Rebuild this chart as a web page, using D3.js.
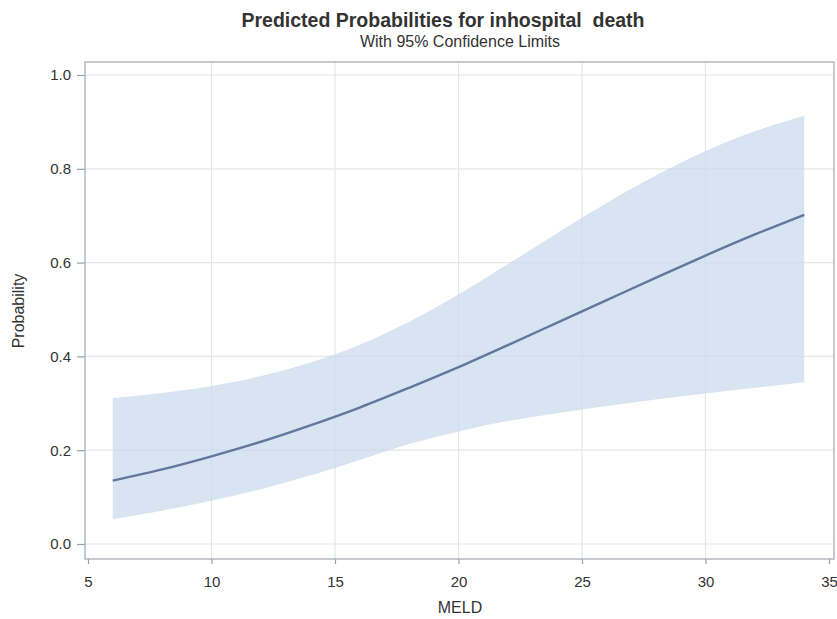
<!DOCTYPE html>
<html>
<head>
<meta charset="utf-8">
<script src="https://cdn.jsdelivr.net/npm/d3@7"></script>
<style>
  body { margin: 0; background: #fff; }
  text { font-family: "Liberation Sans", Arial, sans-serif; fill: #333; }
</style>
</head>
<body>
<div id="chart"></div>
<script>
  // values
  let meld  = [6, 8, 10, 12, 14, 16, 18, 20, 22, 24, 26, 28, 30, 32, 34]
  let pred  = [0.135, 0.159, 0.187, 0.218, 0.253, 0.291, 0.333, 0.377, 0.424, 0.472, 0.520, 0.568, 0.615, 0.660, 0.702]
  let lower = [0.053, 0.071, 0.092, 0.117, 0.146, 0.179, 0.213, 0.240, 0.262, 0.279, 0.294, 0.308, 0.321, 0.333, 0.345]
  let upper = [0.311, 0.322, 0.337, 0.358, 0.387, 0.425, 0.474, 0.532, 0.597, 0.663, 0.727, 0.786, 0.838, 0.880, 0.913]
  let xTicks = [5, 10, 15, 20, 25, 30, 35]
  let yTicks = [0.0, 0.2, 0.4, 0.6, 0.8, 1.0]

  let width  = 837,
      height = 619,
      frame  = { left: 85, right: 834, top: 62, bottom: 559 }

  let x = d3.scaleLinear().domain([5, 35]).range([88, 829]),
      y = d3.scaleLinear().domain([0, 1]).range([544, 75])

  let rows = meld.map(function(m, i) {
    return { x: m, p: pred[i], lo: lower[i], hi: upper[i] } })

  let svg = d3.select('#chart')
              .append('svg:svg')
              .attr('width', width)
              .attr('height', height)

  // grid
  let grid = svg.append('svg:g').attr('id', 'grid')
  grid.selectAll('line.gx').data(xTicks.slice(1, -1))
    .enter().append('svg:line')
      .attr('class', 'gx')
      .attr('x1', function(d) { return x(d) }).attr('x2', function(d) { return x(d) })
      .attr('y1', frame.top).attr('y2', frame.bottom)
      .attr('stroke', '#e4e6e8').attr('stroke-width', 1.2)
  grid.selectAll('line.gy').data(yTicks)
    .enter().append('svg:line')
      .attr('class', 'gy')
      .attr('x1', frame.left).attr('x2', frame.right)
      .attr('y1', function(d) { return y(d) }).attr('y2', function(d) { return y(d) })
      .attr('stroke', '#e4e6e8').attr('stroke-width', 1.2)

  // confidence band
  let area = d3.area()
               .x(function(d) { return x(d.x) })
               .y0(function(d) { return y(d.lo) })
               .y1(function(d) { return y(d.hi) })
               .curve(d3.curveCatmullRom)
  svg.append('svg:path')
    .datum(rows)
    .attr('d', area)
    .attr('fill', '#c9d9ec')
    .attr('fill-opacity', 0.7)

  // predicted line
  let line = d3.line()
               .x(function(d) { return x(d.x) })
               .y(function(d) { return y(d.p) })
               .curve(d3.curveCatmullRom)
  svg.append('svg:path')
    .datum(rows)
    .attr('d', line)
    .attr('fill', 'none')
    .attr('stroke', '#62779d')
    .attr('stroke-width', 2.4)

  // frame
  svg.append('svg:rect')
    .attr('x', frame.left).attr('y', frame.top)
    .attr('width', frame.right - frame.left)
    .attr('height', frame.bottom - frame.top)
    .attr('fill', 'none')
    .attr('stroke', '#b3b9be')
    .attr('stroke-width', 1.5)

  // axes
  let xAxis = d3.axisBottom(x).tickValues(xTicks).tickSize(5).tickPadding(12)
                .tickFormat(d3.format('d'))
  let gx = svg.append('svg:g')
              .attr('transform', 'translate(0,' + frame.bottom + ')')
              .call(xAxis)
  let yAxis = d3.axisLeft(y).tickValues(yTicks).tickSize(8).tickPadding(6)
                .tickFormat(d3.format('.1f'))
  let gy = svg.append('svg:g')
              .attr('transform', 'translate(' + frame.left + ',0)')
              .call(yAxis)

  ;[gx, gy].forEach(function(g) {
    g.select('.domain').remove()
    g.selectAll('.tick line').attr('stroke', '#9aa0a6').attr('stroke-width', 1.2)
    g.selectAll('.tick text')
      .attr('font-size', 15)
      .attr('font-family', '"Liberation Sans", Arial, sans-serif')
      .attr('fill', '#333') })

  // titles
  svg.append('svg:text')
    .attr('x', 443).attr('y', 27)
    .attr('text-anchor', 'middle')
    .attr('font-size', 19.5)
    .attr('font-weight', 'bold')
    .attr('fill', '#111')
    .style('white-space', 'pre')
    .text('Predicted Probabilities for inhospital  death')

  svg.append('svg:text')
    .attr('x', 460).attr('y', 47)
    .attr('text-anchor', 'middle')
    .attr('font-size', 16)
    .attr('fill', '#222')
    .text('With 95% Confidence Limits')

  svg.append('svg:text')
    .attr('x', 460).attr('y', 613)
    .attr('text-anchor', 'middle')
    .attr('font-size', 16)
    .text('MELD')

  svg.append('svg:text')
    .attr('transform', 'translate(24,311) rotate(-90)')
    .attr('text-anchor', 'middle')
    .attr('font-size', 16)
    .text('Probability')
</script>
</body>
</html>
